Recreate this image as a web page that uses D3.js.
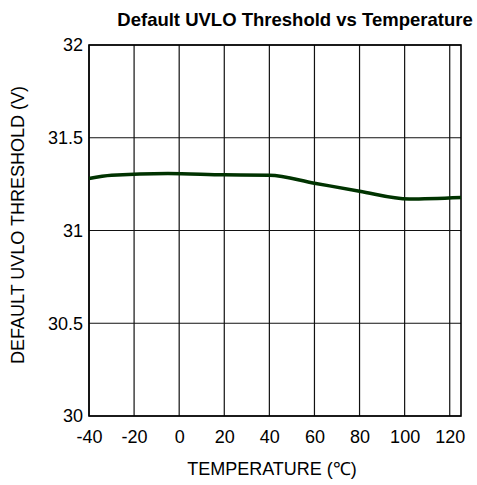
<!DOCTYPE html>
<html><head><meta charset="utf-8">
<script src="https://cdn.jsdelivr.net/npm/d3@7"></script>
<style>body{margin:0;background:#fff}</style>
</head><body>
<svg id="c" width="477" height="485"></svg>
<script>
const temps = [-40, -30, -5, 20, 40, 60, 80, 102, 125];
const uvlo = [31.28, 31.298, 31.307, 31.30, 31.298, 31.255, 31.212, 31.17, 31.178];
const xTicks = [-40, -20, 0, 20, 40, 60, 80, 100, 120];
const yTicks = [30, 30.5, 31, 31.5, 32];
const title = "Default UVLO Threshold vs Temperature";
const xLabel = "TEMPERATURE (\u2103)";
const yLabel = "DEFAULT UVLO THRESHOLD (V)";

const svg = d3.select("#c");
const m = {l: 89, r: 461, t: 45, b: 416};
const x = d3.scaleLinear().domain([-40, 125]).range([m.l, m.r]);
const y = d3.scaleLinear().domain([30, 32]).range([m.b, m.t]);
const font = "Arial, 'Liberation Sans', sans-serif";

// grid
svg.append("g").selectAll("line").data(xTicks).join("line")
  .attr("x1", d => x(d)).attr("x2", d => x(d)).attr("y1", m.t).attr("y2", m.b)
  .attr("stroke", "#111").attr("stroke-width", 1.2);
svg.append("g").selectAll("line").data(yTicks).join("line")
  .attr("y1", d => y(d)).attr("y2", d => y(d)).attr("x1", m.l).attr("x2", m.r)
  .attr("stroke", "#111").attr("stroke-width", 1.2);
svg.append("rect").attr("x", m.l).attr("y", m.t).attr("width", m.r - m.l).attr("height", m.b - m.t)
  .attr("fill", "none").attr("stroke", "#000").attr("stroke-width", 1.6);

// axes via d3 axis (labels only)
const xa = svg.append("g").attr("transform", `translate(0,${m.b})`)
  .call(d3.axisBottom(x).tickValues(xTicks).tickSize(0).tickPadding(14).tickFormat(d => String(d)));
xa.select(".domain").remove();
xa.selectAll("text").attr("font-family", font).attr("font-size", 18).attr("fill", "#000");
const ya = svg.append("g").attr("transform", `translate(${m.l},0)`)
  .call(d3.axisLeft(y).tickValues(yTicks).tickSize(0).tickPadding(6).tickFormat(d => String(d)));
ya.select(".domain").remove();
ya.selectAll("text").attr("font-family", font).attr("font-size", 18).attr("fill", "#000");

// line
svg.append("path").datum(temps.map((t, i) => [t, uvlo[i]]))
  .attr("d", d3.line().x(d => x(d[0])).y(d => y(d[1])).curve(d3.curveMonotoneX))
  .attr("fill", "none").attr("stroke", "#003300").attr("stroke-width", 3.5);

// titles
svg.append("text").attr("x", 295).attr("y", 26).attr("text-anchor", "middle")
  .attr("font-family", font).attr("font-weight", "bold").attr("font-size", 18.5).text(title);
svg.append("text").attr("x", 272).attr("y", 475).attr("text-anchor", "middle")
  .attr("font-family", font).attr("font-size", 18).text(xLabel);
svg.append("text").attr("transform", "translate(24,225) rotate(-90)").attr("text-anchor", "middle")
  .attr("font-family", font).attr("font-size", 18).text(yLabel);
</script>
</body></html>
